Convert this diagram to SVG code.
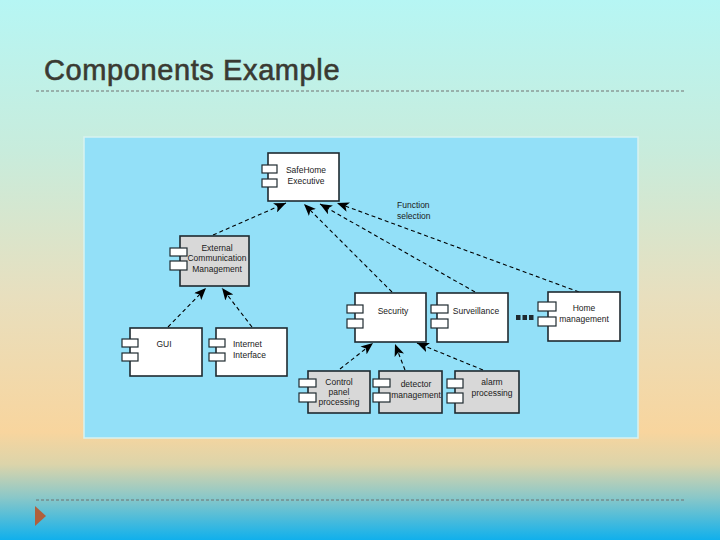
<svg xmlns="http://www.w3.org/2000/svg" width="720" height="540" viewBox="0 0 720 540">
<defs>
<linearGradient id="bg" x1="0" y1="0" x2="0" y2="1">
<stop offset="0" stop-color="#b6f6f4"/>
<stop offset="0.28" stop-color="#c8ecdc"/>
<stop offset="0.55" stop-color="#e8dfbe"/>
<stop offset="0.8" stop-color="#f8d59e"/>
<stop offset="0.86" stop-color="#dcd4aa"/>
<stop offset="0.92" stop-color="#8cc8c8"/>
<stop offset="1" stop-color="#10b0ec"/>
</linearGradient>
<marker id="ah" viewBox="0 0 12 10" refX="12" refY="5" markerWidth="12" markerHeight="10" markerUnits="userSpaceOnUse" orient="auto">
<path d="M0,0 L12,5 L0,10 L3,5 Z" fill="#000"/>
</marker>
<style>
.box{fill:#fff;stroke:#1e2a30;stroke-width:1.6}
.grey{fill:#d8d8d8;stroke:#1e2a30;stroke-width:1.6}
.port{fill:#fff;stroke:#1e2a30;stroke-width:1.2}
.t{font-family:"Liberation Sans",Arial,sans-serif;font-size:8.5px;fill:#1a1a1a;text-anchor:middle}
.tl{font-family:"Liberation Sans",Arial,sans-serif;font-size:8.5px;fill:#1a1a1a}
.c{fill:none;stroke:#000;stroke-width:1.1;stroke-dasharray:4 3;marker-end:url(#ah)}
.rule{stroke:#707070;stroke-width:1;stroke-dasharray:3 2}
</style>
</defs>
<rect x="0" y="0" width="720" height="540" fill="url(#bg)"/>
<text x="44" y="80" font-family="'Liberation Sans',Arial,sans-serif" font-size="29" letter-spacing="0.6" fill="#3a3a32" stroke="#3a3a32" stroke-width="0.6">Components Example</text>
<line class="rule" x1="36" y1="91" x2="686" y2="91"/>
<line class="rule" x1="36" y1="500" x2="686" y2="500"/>
<path d="M35,506 L46,516 L35,526 Z" fill="#b0603c"/>
<rect x="84" y="137" width="554" height="301" fill="#93e0f8" stroke="#d8f2f0" stroke-width="1.5"/>

<g id="connectors">
<line class="c" x1="213" y1="235" x2="286" y2="203"/>
<line class="c" x1="392" y1="292" x2="304" y2="204"/>
<line class="c" x1="475" y1="292" x2="320" y2="204"/>
<line class="c" x1="579" y1="292" x2="337" y2="203"/>
<line class="c" x1="168" y1="327" x2="206" y2="288"/>
<line class="c" x1="252" y1="327" x2="222" y2="288"/>
<line class="c" x1="340" y1="369" x2="373" y2="343"/>
<line class="c" x1="405" y1="370" x2="395" y2="344"/>
<line class="c" x1="483" y1="370" x2="417" y2="343"/>
</g>

<g id="safehome">
<rect class="box" x="268" y="153" width="71" height="48"/>
<rect class="port" x="262" y="165" width="15" height="8"/>
<rect class="port" x="262" y="179" width="15" height="8"/>
<text class="t" x="306" y="173">SafeHome</text>
<text class="t" x="306" y="184">Executive</text>
</g>

<g id="external">
<rect class="grey" x="180" y="236" width="69" height="50"/>
<rect class="port" x="170" y="248" width="17" height="8"/>
<rect class="port" x="170" y="261" width="17" height="9"/>
<text class="t" x="217" y="251">External</text>
<text class="t" x="217" y="261">Communication</text>
<text class="t" x="217" y="272">Management</text>
</g>

<g id="gui">
<rect class="box" x="130" y="328" width="72" height="48"/>
<rect class="port" x="122" y="339" width="16" height="8"/>
<rect class="port" x="122" y="353" width="16" height="8"/>
<text class="t" x="164" y="347">GUI</text>
</g>

<g id="internet">
<rect class="box" x="216" y="328" width="71" height="48"/>
<rect class="port" x="209" y="339" width="16" height="8"/>
<rect class="port" x="209" y="353" width="16" height="8"/>
<text class="tl" x="233" y="347">Internet</text>
<text class="tl" x="233" y="358">Interface</text>
</g>

<g id="security">
<rect class="box" x="355" y="293" width="71" height="49"/>
<rect class="port" x="347" y="305" width="16" height="8"/>
<rect class="port" x="347" y="319" width="16" height="9"/>
<text class="t" x="393" y="314">Security</text>
</g>

<g id="surveillance">
<rect class="box" x="437" y="293" width="71" height="49"/>
<rect class="port" x="431" y="305" width="17" height="8"/>
<rect class="port" x="431" y="319" width="17" height="9"/>
<text class="t" x="476" y="314">Surveillance</text>
</g>

<g id="dots">
<rect x="516" y="315" width="4.5" height="5" fill="#1e2a30"/>
<rect x="522.5" y="315" width="4.5" height="5" fill="#1e2a30"/>
<rect x="529" y="315" width="4.5" height="5" fill="#1e2a30"/>
</g>

<g id="home">
<rect class="box" x="548" y="292" width="72" height="49"/>
<rect class="port" x="538" y="302" width="18" height="9"/>
<rect class="port" x="538" y="317" width="18" height="9"/>
<text class="t" x="584" y="311">Home</text>
<text class="t" x="584" y="322">management</text>
</g>

<g id="function-label">
<text class="tl" x="397" y="208">Function</text>
<text class="tl" x="397" y="219">selection</text>
</g>

<g id="control">
<rect class="grey" x="308" y="371" width="62" height="42"/>
<rect class="port" x="299" y="379" width="17" height="8"/>
<rect class="port" x="299" y="393" width="17" height="9"/>
<text class="t" x="339" y="385">Control</text>
<text class="t" x="339" y="395">panel</text>
<text class="t" x="339" y="405">processing</text>
</g>

<g id="detector">
<rect class="grey" x="379" y="371" width="63" height="42"/>
<rect class="port" x="373" y="379" width="17" height="8"/>
<rect class="port" x="373" y="393" width="17" height="9"/>
<text class="t" x="416" y="387">detector</text>
<text class="t" x="416" y="398">management</text>
</g>

<g id="alarm">
<rect class="grey" x="455" y="371" width="64" height="42"/>
<rect class="port" x="447" y="379" width="16" height="9"/>
<rect class="port" x="447" y="393" width="16" height="10"/>
<text class="t" x="492" y="385">alarm</text>
<text class="t" x="492" y="396">processing</text>
</g>
</svg>
